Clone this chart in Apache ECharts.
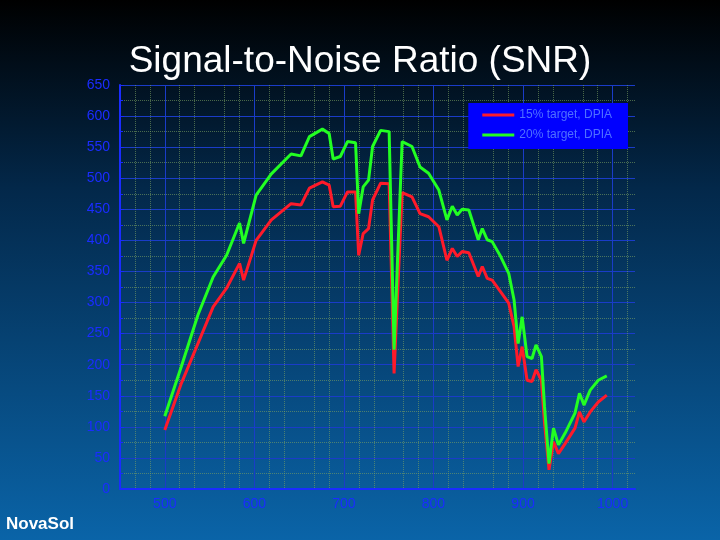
<!DOCTYPE html>
<html><head><meta charset="utf-8">
<script src="https://cdn.jsdelivr.net/npm/echarts@6/dist/echarts.min.js"></script>
<style>html,body{margin:0;padding:0;}#c{width:720px;height:540px;}</style>
</head><body><div id="c"></div>
<script>
const wavelengths=[500,518.5,537,554,569,583.5,588,602,619,641,652,661.5,676,683.5,688,696,704,713,716.5,721.5,727.5,732,741,750.5,756,765,776,785,794.5,806,815,821,826.5,832,839.5,850,854.5,860,865.5,875,884,890,894.5,899,904.5,910,914.5,920.5,924,929,934,939.5,947,958,963,968,975,984,993.5];
const snr15=[95,170,234,293,323,363,336,400,433,459,457,484,494,489,454,455,478,478,376,411,419,465,492,491,186,477,470,443,438,422,368,387,374,382,380,342,358,339,336,317,299,261,197,229,175,173,192,175,106,31,76,57,73,98,124,108,124,140,151];
const snr20=[117,197,280,341,376,428,395,473,507,539,536,567,579,572,531,535,559,557,443,486,497,551,577,575,224,559,551,518,508,481,433,455,441,450,449,401,419,401,398,374,347,304,234,277,213,210,232,213,132,41,98,71,90,122,154,135,159,175,182];
const xTicks=[500,600,700,800,900,1000];
const names=['15% target, DPIA','20% target, DPIA'];
const pair=a=>a.map((v,i)=>[wavelengths[i],v]);
const chart=echarts.init(document.getElementById('c'));
const blue='#1a2cff';
chart.setOption({
 backgroundColor:new echarts.graphic.LinearGradient(0,0,0,1,[{offset:0,color:'#000000'},{offset:0.35,color:'#03284a'},{offset:1,color:'#0a64a8'}]),
 title:{text:'Signal-to-Noise Ratio (SNR)',left:'center',top:38,textStyle:{color:'#fff',fontSize:37,fontWeight:'normal',fontFamily:'Liberation Sans'}},
 graphic:[{type:'text',left:6,top:516,style:{text:'NovaSol',fill:'#fff',font:'bold 17px Liberation Sans'}}],
 grid:{left:120,right:85,top:85,bottom:51},
 legend:{right:92,top:103,orient:'vertical',backgroundColor:'#0000ff',padding:[6,16,8,14],itemWidth:32,itemHeight:3,itemGap:8,icon:'rect',
   textStyle:{color:'#4f70ff',fontSize:12,fontFamily:'Liberation Sans'},data:names},
 xAxis:{type:'value',min:450,max:1025,interval:50,
   axisLine:{lineStyle:{color:blue,width:2}},axisTick:{show:false},
   axisLabel:{color:blue,fontSize:14,fontFamily:'Liberation Sans',formatter:v=>xTicks.includes(v)?v:''},
   splitLine:{show:true,lineStyle:{color:['transparent','#1a3cc8'],width:1}},
   minorTick:{show:false,splitNumber:3},minorSplitLine:{show:true,lineStyle:{color:'#7aa060',type:'dotted',opacity:0.6}}},
 yAxis:{type:'value',min:0,max:650,interval:50,
   axisLine:{show:true,lineStyle:{color:blue,width:2}},axisTick:{show:true,inside:true,length:4,lineStyle:{color:blue}},
   axisLabel:{color:blue,fontSize:14,fontFamily:'Liberation Sans',margin:10},
   splitLine:{lineStyle:{color:'#1a3cc8',width:1}},
   minorTick:{show:true,splitNumber:2,length:3,lineStyle:{color:blue}},minorSplitLine:{show:true,lineStyle:{color:'#7aa060',type:'dotted',opacity:0.6}}},
 series:[
  {name:names[0],type:'line',data:pair(snr15),symbol:'none',lineStyle:{color:'#ff1a2a',width:3},itemStyle:{color:'#ff1a2a'}},
  {name:names[1],type:'line',data:pair(snr20),symbol:'none',lineStyle:{color:'#22ff22',width:3},itemStyle:{color:'#22ff22'}}
 ]
});
</script></body></html>
